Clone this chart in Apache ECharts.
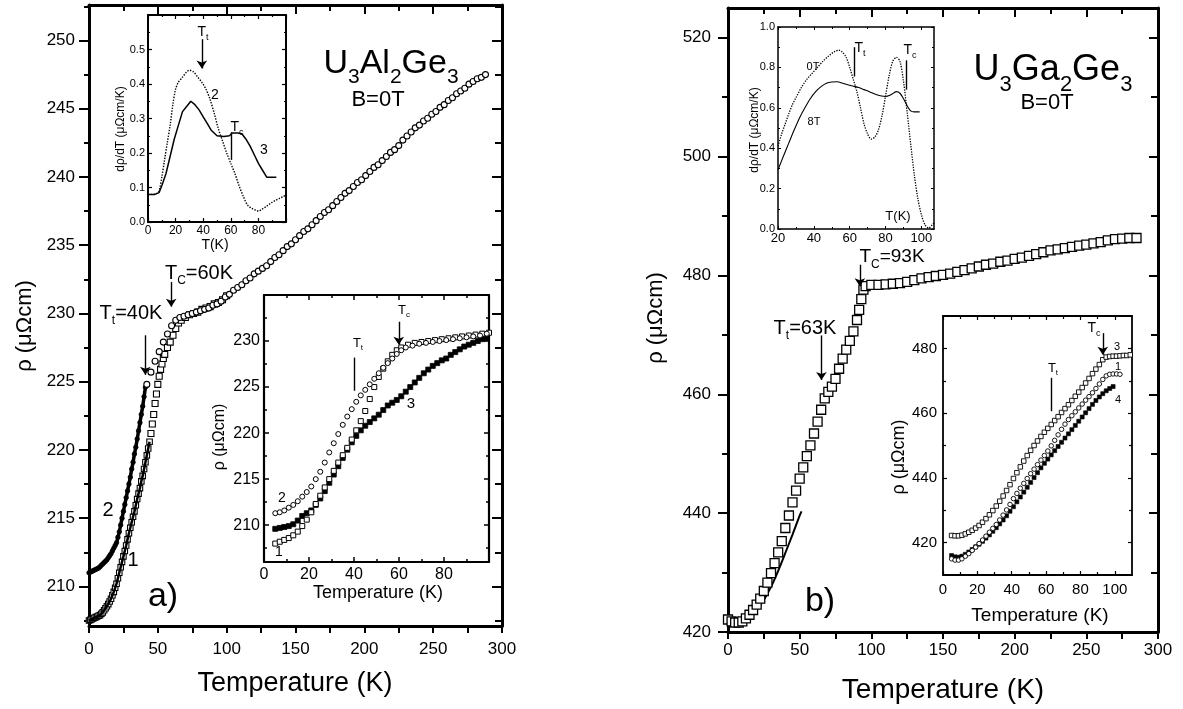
<!DOCTYPE html>
<html><head><meta charset="utf-8">
<script src="https://cdn.jsdelivr.net/npm/echarts@6/dist/echarts.min.js"></script>
<style>html,body{margin:0;padding:0;background:#fff}#c{width:1183px;height:709px}</style>
</head><body><div id="c"></div>
<script>
// ---------------- DATA ----------------
// Panel a) main: U3Al2Ge3, rho (µΩcm) vs T (K)
const mainL_c2_low = [[0,211.0],[1,211.05],[2,211.1],[3,211.15],[4,211.2],[5,211.25],[6,211.3],[7,211.35],[8,211.45],[9,211.55],[10,211.65],[11,211.75],[12,211.85],[13,211.95],[14,212.1],[15,212.25],[16,212.4],[17,212.6],[18,212.8],[19,213.0],[20,213.2],[21,213.6],[22,214.0],[23,214.5],[24,215.0],[25,215.5],[26,216.0],[27,216.5],[28,217.0],[29,217.5],[30,218.0],[31,218.6],[32,219.1],[33,219.7],[34,220.2],[35,220.8],[36,221.4],[37,222.0],[38,222.6],[39,223.2],[40,223.9],[41,224.6]];
const mainL_c2 = [[42,224.8],[45,225.7],[48,226.5],[51,227.2],[54,227.9],[57,228.5],[60,229.1],[63,229.5],[66,229.7],[69,229.8],[72,229.9],[75,230.0],[78,230.1],[81,230.2],[84,230.3],[87,230.4],[90,230.6],[93,230.7],[96,230.9],[99,231.2],[102,231.4],[105,231.7],[108,231.9],[111,232.1],[114,232.4],[117,232.6],[120,232.9],[123,233.1],[126,233.3],[129,233.5],[132,233.8],[135,234.1],[138,234.3],[141,234.6],[144,234.9],[147,235.1],[150,235.4],[153,235.7],[156,236.0],[159,236.2],[162,236.5],[165,236.8],[168,237.1],[171,237.4],[174,237.6],[177,237.9],[180,238.2],[183,238.5],[186,238.8],[189,239.0],[192,239.3],[195,239.6],[198,239.8],[201,240.1],[204,240.4],[207,240.7],[210,240.9],[213,241.2],[216,241.5],[219,241.8],[222,242.0],[225,242.3],[228,242.7],[231,243.0],[234,243.3],[237,243.6],[240,243.8],[243,244.1],[246,244.3],[249,244.6],[252,244.8],[255,245.1],[258,245.3],[261,245.6],[264,245.8],[267,246.1],[270,246.3],[273,246.5],[276,246.8],[279,247.0],[282,247.2],[285,247.3],[288,247.5]];
const mainL_c1_low = [[0,207.5],[1,207.55],[2,207.6],[3,207.65],[4,207.7],[5,207.75],[6,207.8],[7,207.85],[8,207.9],[9,208.0],[10,208.1],[11,208.25],[12,208.4],[13,208.55],[14,208.7],[15,208.9],[16,209.1],[17,209.35],[18,209.6],[19,209.9],[20,210.2],[21,210.6],[22,211.0],[23,211.4],[24,211.8],[25,212.2],[26,212.6],[27,213.0],[28,213.45],[29,213.9],[30,214.3],[31,214.7],[32,215.1],[33,215.5],[34,215.95],[35,216.4],[36,216.8],[37,217.2],[38,217.7],[39,218.1],[40,218.6],[41,219.1],[42,219.6],[43,220.1],[44,220.6]];
const mainL_c1 = [[45,221.2],[46,221.9],[47,222.6],[48,223.4],[49,224.1],[50,224.8],[51,225.4],[52,225.9],[53,226.3],[54,226.7],[55,227.0],[57,227.5],[59,227.9],[61,228.4],[63,228.9],[65,229.3],[67,229.5],[70,229.7],[73,229.9],[76,230.0],[79,230.1],[82,230.3],[85,230.4],[88,230.5],[91,230.7],[94,230.8],[97,231.0],[100,231.3]];

// Panel a) upper inset: drho/dT
const insTL_2 = [[0,0.08],[3,0.08],[6,0.082],[8,0.09],[10,0.13],[12,0.18],[14,0.23],[16,0.28],[18,0.34],[20,0.385],[22,0.405],[25,0.42],[28,0.435],[30,0.44],[33,0.435],[36,0.42],[39,0.405],[42,0.385],[45,0.355],[48,0.315],[51,0.27],[54,0.235],[57,0.2],[60,0.17],[63,0.14],[66,0.105],[69,0.075],[72,0.05],[75,0.04],[78,0.034],[80,0.032],[83,0.038],[86,0.046],[89,0.055],[92,0.062],[95,0.068],[98,0.074],[100,0.078]];
const insTL_3 = [[0,0.08],[5,0.08],[8,0.085],[10,0.105],[13,0.14],[16,0.19],[19,0.24],[22,0.28],[25,0.32],[28,0.335],[31,0.35],[34,0.34],[37,0.325],[40,0.305],[43,0.285],[46,0.265],[50,0.25],[55,0.248],[59,0.25],[61,0.258],[65,0.258],[68,0.256],[71,0.24],[74,0.22],[77,0.195],[80,0.17],[83,0.15],[86,0.13],[93,0.13]];

// Panel a) lower inset: rho vs T, samples 1,2,3
const insBL_2 = [[5,211.3],[7,211.4],[9,211.6],[11,211.9],[13,212.2],[15,212.6],[17,213.1],[19,213.6],[21,214.2],[23,215.0],[25,215.8],[27,216.8],[29,217.9],[31,218.9],[33,219.9],[35,220.9],[37,221.8],[39,222.6],[41,223.4],[43,224.1],[45,224.7],[47,225.3],[49,225.9],[51,226.5],[53,227.1],[55,227.6],[57,228.1],[59,228.6],[61,229.0],[63,229.3],[66,229.5],[69,229.7],[72,229.8],[75,229.9],[78,230.0],[81,230.1],[84,230.2],[87,230.3],[90,230.4],[93,230.5],[96,230.6],[99,230.8]];
const insBL_1 = [[5,208.0],[7,208.2],[9,208.4],[11,208.6],[13,208.9],[15,209.3],[17,209.9],[19,210.6],[21,211.4],[23,212.3],[25,213.2],[27,214.1],[29,215.0],[31,215.9],[33,216.8],[35,217.6],[37,218.4],[39,219.3],[41,220.3],[43,221.3],[45,222.4],[47,223.7],[49,225.0],[51,226.1],[53,227.0],[55,227.8],[57,228.5],[59,229.0],[61,229.3],[64,229.6],[67,229.8],[70,229.9],[73,230.0],[76,230.1],[79,230.2],[82,230.3],[85,230.4],[88,230.5],[91,230.6],[94,230.7],[97,230.8],[100,230.9]];
const insBL_3 = [[5,209.6],[7,209.7],[9,209.8],[11,209.9],[13,210.1],[15,210.5],[17,211.0],[19,211.3],[21,211.6],[23,212.2],[25,212.9],[27,213.7],[29,214.6],[31,215.5],[33,216.4],[35,217.3],[37,218.2],[39,219.0],[41,219.7],[43,220.3],[45,220.8],[47,221.2],[49,221.6],[51,222.0],[53,222.5],[55,223.0],[57,223.3],[59,223.6],[61,224.0],[63,224.5],[65,225.0],[67,225.5],[69,226.0],[71,226.5],[73,226.9],[75,227.3],[77,227.6],[79,227.9],[81,228.1],[83,228.5],[85,228.8],[87,229.1],[89,229.4],[91,229.6],[93,229.8],[95,230.0],[97,230.2],[99,230.3]];

// Panel b) main: U3Ga2Ge3
const mainR = [[0,422.1],[2.5,421.8],[5,421.6],[7.5,421.6],[10,421.8],[12.5,422.3],[15,422.9],[17.5,423.7],[20,424.6],[22.5,425.6],[25,426.9],[27.5,428.3],[30,429.9],[32.5,431.6],[35,433.4],[37.5,435.3],[40,437.5],[42.5,439.6],[45,441.8],[47.5,443.8],[50,445.8],[52.5,447.7],[55,449.6],[57.5,451.4],[60,453.4],[62.5,455.4],[65,457.4],[67.5,459.3],[70,460.4],[72.5,461.3],[75,462.6],[77.5,464.3],[80,466.0],[82.5,467.5],[85,469.0],[87.5,470.6],[90,472.5],[91.5,474.2],[93,476.0],[94.5,477.6],[96,478.2],[100,478.4],[105,478.4],[110,478.5],[115,478.6],[120,478.7],[125,478.9],[130,479.2],[135,479.5],[140,479.7],[145,479.9],[150,480.1],[155,480.3],[160,480.6],[165,480.9],[170,481.2],[175,481.5],[180,481.8],[185,482.0],[190,482.3],[195,482.5],[200,482.8],[205,483.0],[210,483.3],[215,483.6],[220,483.9],[225,484.2],[230,484.4],[235,484.6],[240,484.8],[245,485.0],[250,485.2],[255,485.4],[260,485.6],[265,485.9],[270,486.1],[275,486.2],[280,486.3],[285,486.3]];
const mainR_fit = [[0,422.0],[5,421.7],[10,421.8],[15,422.6],[20,423.8],[25,425.4],[30,427.6],[35,430.3],[40,433.3],[45,436.4],[50,439.6],[51.3,440.3]];

// Panel b) upper inset: drho/dT at 0T and 8T
const insTR_0T = [[20,0.41],[22,0.47],[24,0.52],[26,0.57],[28,0.615],[30,0.65],[33,0.7],[36,0.74],[39,0.77],[42,0.8],[45,0.83],[48,0.855],[51,0.875],[54,0.885],[56,0.875],[58,0.85],[60,0.8],[62,0.74],[64,0.68],[66,0.6],[68,0.52],[70,0.47],[72,0.445],[74,0.455],[76,0.49],[78,0.56],[80,0.66],[82,0.76],[84,0.83],[86,0.85],[88,0.83],[90,0.73],[92,0.58],[94,0.42],[96,0.27],[98,0.15],[100,0.07],[102,0.02],[104,0.005],[106,0.02],[107,0.03]];
const insTR_8T = [[20,0.293],[23,0.36],[26,0.425],[29,0.49],[32,0.55],[35,0.6],[38,0.645],[41,0.68],[44,0.705],[47,0.722],[50,0.728],[53,0.729],[56,0.722],[59,0.714],[62,0.707],[65,0.7],[68,0.69],[71,0.68],[74,0.668],[77,0.66],[80,0.656],[83,0.665],[86,0.68],[88,0.672],[90,0.645],[92,0.61],[94,0.585],[96,0.58],[99,0.58]];

// Panel b) lower inset: samples 1,3,4
const insBR_3 = [[5,422.2],[7,422.1],[9,422.1],[11,422.3],[13,422.7],[15,423.2],[17,423.8],[19,424.5],[21,425.3],[23,426.3],[25,427.4],[27,428.6],[29,429.9],[31,431.3],[33,432.8],[35,434.4],[37,436.1],[39,437.9],[41,439.8],[43,441.6],[45,443.4],[47,445.2],[49,446.9],[51,448.5],[53,450.0],[55,451.4],[57,452.8],[59,454.1],[61,455.3],[63,456.5],[65,457.7],[67,458.9],[69,460.2],[71,461.4],[73,462.6],[75,463.9],[77,465.2],[79,466.5],[81,467.9],[83,469.3],[85,470.7],[87,472.2],[89,473.6],[91,475.0],[93,476.5],[95,477.3],[97,477.5],[99,477.6],[101,477.6],[103,477.7],[105,477.8],[107,477.8],[109,478.0]];
const insBR_1 = [[5,415.0],[7,414.6],[9,414.6],[11,415.0],[13,415.8],[15,416.6],[17,417.6],[19,418.6],[21,419.7],[23,420.8],[25,422.0],[27,423.2],[29,424.4],[31,425.6],[33,427.0],[35,428.5],[37,430.1],[39,431.8],[41,433.6],[43,435.2],[45,436.8],[47,438.3],[49,439.8],[51,441.3],[53,442.7],[55,444.1],[57,445.5],[59,446.9],[61,448.3],[63,449.9],[65,451.6],[67,453.3],[69,455.0],[71,456.6],[73,458.0],[75,459.2],[77,460.4],[79,461.6],[81,462.8],[83,464.0],[85,465.1],[87,466.3],[89,467.6],[91,469.0],[93,470.4],[95,471.5],[97,472.0],[99,472.1],[101,472.1],[103,472.0]];
const insBR_4 = [[5,416.0],[7,415.6],[9,415.5],[11,415.8],[13,416.4],[15,417.1],[17,417.9],[19,418.7],[21,419.5],[23,420.4],[25,421.4],[27,422.4],[29,423.5],[31,424.6],[33,425.8],[35,427.0],[37,428.3],[39,429.7],[41,431.1],[43,432.6],[45,434.1],[47,435.6],[49,437.1],[51,438.6],[53,440.1],[55,441.6],[57,443.1],[59,444.5],[61,445.8],[63,447.1],[65,448.4],[67,449.7],[69,451.0],[71,452.3],[73,453.6],[75,454.9],[77,456.2],[79,457.5],[81,458.8],[83,460.1],[85,461.4],[87,462.7],[89,463.9],[91,465.0],[93,466.0],[95,466.9],[97,467.6],[99,468.2]];

// Tick values
const tkL_x = [0,50,100,150,200,250,300], tkL_xm = [25,75,125,175,225,275];
const tkL_y = [210,215,220,225,230,235,240,245,250], tkL_ym = [207.5,212.5,217.5,222.5,227.5,232.5,237.5,242.5,247.5,252.5];
const tkR_x = [0,50,100,150,200,250,300], tkR_xm = [25,75,125,175,225,275];
const tkR_y = [420,440,460,480,500,520], tkR_ym = [430,450,470,490,510];
const tkTL_x = [0,20,40,60,80,100], tkTL_xl = [0,20,40,60,80], tkTL_xm = [10,30,50,70,90];
const tkTL_y = [0,0.1,0.2,0.3,0.4,0.5], tkTL_ym = [0.05,0.15,0.25,0.35,0.45,0.55];
const tkBL_x = [0,20,40,60,80,100], tkBL_xl = [0,20,40,60,80], tkBL_xm = [10,30,50,70,90];
const tkBL_y = [210,215,220,225,230], tkBL_ym = [207.5,212.5,217.5,222.5,227.5,232.5];
const tkTR_x = [20,40,60,80,100], tkTR_xm = [30,50,70,90];
const tkTR_y = [0,0.2,0.4,0.6,0.8,1.0], tkTR_ym = [0.1,0.3,0.5,0.7,0.9];
const tkBR_x = [0,20,40,60,80,100], tkBR_xm = [10,30,50,70,90];
const tkBR_y = [420,440,460,480], tkBR_ym = [430,450,470];

// ---------------- BUILD ----------------
const FONT = '"Liberation Sans", Arial, Helvetica, sans-serif';
const xAxes = [], yAxes = [];
function ax(g, pos, min, max, o) {
  return {
    type: 'value', gridIndex: g, position: pos, min: min, max: max,
    axisLine: {show: !!o.line, onZero: false, lineStyle: {color: '#000', width: o.lw || 2}},
    axisTick: {show: !!o.ticks, inside: !!o.inside, length: o.len || 4, customValues: o.ticks || [],
      lineStyle: {color: '#000', width: o.tw || 1.5}},
    axisLabel: {show: !!o.labels, customValues: o.labels || [], fontSize: o.fs || 12, color: '#000',
      fontFamily: FONT, margin: o.margin || 6, formatter: o.fmt},
    splitLine: {show: false}, splitArea: {show: false}, minorTick: {show: false}, minorSplitLine: {show: false}
  };
}
function box(g, X, Y) {
  const xi = xAxes.length;
  xAxes.push(ax(g, 'bottom', X.min, X.max, {line: true, lw: X.lw, ticks: X.major, inside: X.bIn, len: X.bLen, tw: X.tw, labels: X.labels, fs: X.fs, margin: X.margin, fmt: X.fmt}));
  xAxes.push(ax(g, 'bottom', X.min, X.max, {line: false, ticks: X.minor, inside: X.bIn, len: X.bmLen, tw: X.tw}));
  xAxes.push(ax(g, 'top', X.min, X.max, {line: true, lw: X.lw, ticks: X.major, inside: true, len: X.tLen, tw: X.tw}));
  xAxes.push(ax(g, 'top', X.min, X.max, {line: false, ticks: X.minor, inside: true, len: X.tmLen, tw: X.tw}));
  const yi = yAxes.length;
  yAxes.push(ax(g, 'left', Y.min, Y.max, {line: true, lw: Y.lw, ticks: Y.major, inside: Y.lIn, len: Y.lLen, tw: Y.tw, labels: Y.labels, fs: Y.fs, margin: Y.margin, fmt: Y.fmt}));
  yAxes.push(ax(g, 'left', Y.min, Y.max, {line: false, ticks: Y.minor, inside: Y.lIn, len: Y.lmLen, tw: Y.tw}));
  yAxes.push(ax(g, 'right', Y.min, Y.max, {line: true, lw: Y.lw, ticks: Y.major, inside: true, len: Y.rLen, tw: Y.tw}));
  yAxes.push(ax(g, 'right', Y.min, Y.max, {line: false, ticks: Y.minor, inside: true, len: Y.rmLen, tw: Y.tw}));
  return {x: xi, y: yi};
}

const grids = [
  {left: 89, top: 5, width: 413, height: 621},
  {left: 148, top: 15, width: 138, height: 207, show: true, backgroundColor: '#fff', borderWidth: 0},
  {left: 264, top: 295, width: 225, height: 267, show: true, backgroundColor: '#fff', borderWidth: 0},
  {left: 728, top: 8, width: 430, height: 624},
  {left: 778, top: 27, width: 156, height: 202, show: true, backgroundColor: '#fff', borderWidth: 0},
  {left: 943, top: 316, width: 189, height: 259, show: true, backgroundColor: '#fff', borderWidth: 0}
];
const f1 = v => v.toFixed(1);
const A0 = box(0, {min: 0, max: 300, major: tkL_x, minor: tkL_xm, labels: tkL_x, fs: 17, margin: 15, lw: 3, tw: 2, bIn: false, bLen: 7, bmLen: 7, tLen: 9, tmLen: 6},
                 {min: 207.1, max: 252.6, major: tkL_y, minor: tkL_ym, labels: tkL_y, fs: 17, margin: 14, lw: 3, tw: 2, lIn: false, lLen: 10, lmLen: 5, rLen: 10, rmLen: 7});
const A1 = box(1, {min: 0, max: 100, major: tkTL_x, minor: tkTL_xm, labels: tkTL_xl, fs: 12, margin: 3, lw: 2, tw: 1.2, bIn: true, bLen: 4, bmLen: 2, tLen: 4, tmLen: 2},
                 {min: 0, max: 0.6, major: tkTL_y, minor: tkTL_ym, labels: tkTL_y, fs: 11, margin: 3, lw: 2, tw: 1.2, lIn: true, lLen: 4, lmLen: 2, rLen: 4, rmLen: 2, fmt: f1});
const A2 = box(2, {min: 0, max: 100, major: tkBL_x, minor: tkBL_xm, labels: tkBL_xl, fs: 16, margin: 5, lw: 2.2, tw: 1.5, bIn: true, bLen: 5, bmLen: 3, tLen: 5, tmLen: 3},
                 {min: 206, max: 235, major: tkBL_y, minor: tkBL_ym, labels: tkBL_y, fs: 16, margin: 4, lw: 2.2, tw: 1.5, lIn: true, lLen: 5, lmLen: 3, rLen: 5, rmLen: 3});
const A3 = box(3, {min: 0, max: 300, major: tkR_x, minor: tkR_xm, labels: tkR_x, fs: 17, margin: 10, lw: 3, tw: 2, bIn: false, bLen: 7, bmLen: 7, tLen: 9, tmLen: 6},
                 {min: 420, max: 525, major: tkR_y, minor: tkR_ym, labels: tkR_y, fs: 17, margin: 17, lw: 3, tw: 2, lIn: false, lLen: 10, lmLen: 6, rLen: 9, rmLen: 7});
const A4 = box(4, {min: 20, max: 107, major: tkTR_x, minor: tkTR_xm, labels: tkTR_x, fs: 13, margin: 3, lw: 1.5, tw: 1, bIn: true, bLen: 3, bmLen: 2, tLen: 3, tmLen: 2},
                 {min: 0, max: 1, major: tkTR_y, minor: tkTR_ym, labels: tkTR_y, fs: 11, margin: 3, lw: 1.5, tw: 1, lIn: true, lLen: 3, lmLen: 2, rLen: 3, rmLen: 2, fmt: f1});
const A5 = box(5, {min: 0, max: 110, major: tkBR_x, minor: tkBR_xm, labels: tkBR_x, fs: 15, margin: 7, lw: 1.8, tw: 1.2, bIn: true, bLen: 4, bmLen: 3, tLen: 4, tmLen: 3},
                 {min: 410, max: 490, major: tkBR_y, minor: tkBR_ym, labels: tkBR_y, fs: 15, margin: 6, lw: 1.8, tw: 1.2, lIn: true, lLen: 4, lmLen: 3, rLen: 4, rmLen: 3});

function scat(A, data, symbol, size, fill, bw, extra) {
  return Object.assign({type: 'scatter', xAxisIndex: A.x, yAxisIndex: A.y, data: data, symbol: symbol, symbolSize: size,
    itemStyle: {color: fill, borderColor: '#000', borderWidth: bw, opacity: 1}, silent: true, z: 3}, extra || {});
}
function line(A, data, type, w, extra) {
  return Object.assign({type: 'line', xAxisIndex: A.x, yAxisIndex: A.y, data: data, showSymbol: false, symbol: 'none', smooth: 0.3,
    lineStyle: {color: '#000', width: w, type: type}, silent: true, z: 3}, extra || {});
}
function mk(items) {
  return {silent: true, animation: false, label: {show: false}, symbolSize: 8,
    lineStyle: {color: '#000', width: 1.4, type: 'solid'}, emphasis: {disabled: true},
    data: items.map(it => [{coord: [it[0], it[1]], symbol: 'none'}, {coord: [it[0], it[2]], symbol: it[3] ? 'arrow' : 'none'}])};
}

const series = [
  line(A0, mainL_c2_low, 'solid', 3.5, {smooth: 0.2}),
  scat(A0, mainL_c2_low, 'circle', 4.5, '#000', 0.8),
  scat(A0, mainL_c1_low, 'rect', 5.5, '#fff', 1.1),
  line(A0, mainL_c1_low, 'solid', 2.5, {smooth: 0.2, z: 4}),
  scat(A0, mainL_c1, 'rect', 6, '#fff', 1.1),
  scat(A0, mainL_c2, 'circle', 6, '#fff', 1.1, {markLine: mk([[40.9, 228.4, 225.5, 1], [59.7, 232.3, 230.5, 1]])}),
  line(A1, insTL_2, 'dotted', 1.4),
  line(A1, insTL_3, 'solid', 1.5, {smooth: false, markLine: mk([[39, 0.53, 0.445, 1], [60.6, 0.26, 0.18, 0]])}),
  scat(A2, insBL_3, 'rect', 5, '#000', 0.8),
  scat(A2, insBL_1, 'rect', 5, '#fff', 1),
  scat(A2, insBL_2, 'circle', 5, '#fff', 1, {markLine: mk([[40.3, 228.2, 224.6, 0], [59.9, 232.1, 229.6, 1]])}),
  line(A3, mainR_fit, 'solid', 2),
  scat(A3, mainR, 'rect', 9, '#fff', 1.3, {markLine: mk([[92, 481.8, 478.2, 1], [65.2, 469.9, 462.4, 1]])}),
  line(A4, insTR_0T, 'dotted', 1.3),
  line(A4, insTR_8T, 'solid', 1.1, {markLine: mk([[62.7, 0.9, 0.755, 0], [91.3, 0.835, 0.69, 0]])}),
  scat(A5, insBR_4, 'rect', 4, '#000', 0.6),
  scat(A5, insBR_1, 'circle', 4.5, '#fff', 0.9),
  scat(A5, insBR_3, 'rect', 4.5, '#fff', 0.9, {markLine: mk([[93, 484.7, 478.0, 1], [62.8, 470.9, 460.6, 0]])})
];

// ---------------- TEXT ----------------
function txt(x, y, s, fs, rot) {
  return {type: 'text', x: x, y: y, rotation: rot || 0, silent: true, z: 100,
    style: {text: s, fontSize: fs, fontFamily: FONT, fill: '#000', align: 'center', verticalAlign: 'middle'}};
}
function rtxt(x, y, parts, fs) {
  const sfs = Math.round(fs * 0.62), pad = Math.round(fs * 0.8);
  const t = parts.map(p => p[1] ? '{s|' + p[0] + '}' : '{n|' + p[0] + '}').join('');
  return {type: 'text', x: x, y: y, silent: true, z: 100,
    style: {text: t, fontSize: fs, fontFamily: FONT, fill: '#000', align: 'center', verticalAlign: 'middle',
      rich: {n: {fontSize: fs, fontFamily: FONT, fill: '#000'},
             s: {fontSize: sfs, fontFamily: FONT, fill: '#000', padding: [pad, 0, 0, 0]}}}};
}
const R = Math.PI / 2;
const graphic = [
  rtxt(391, 64, [['U'], ['3', 1], ['Al'], ['2', 1], ['Ge'], ['3', 1]], 34),
  txt(378, 100, 'B=0T', 22),
  rtxt(199, 273, [['T'], ['C', 1], ['=60K']], 20),
  rtxt(131, 313, [['T'], ['t', 1], ['=40K']], 20),
  txt(163, 597, 'a)', 34),
  txt(108, 510, '2', 20), txt(133, 560, '1', 20),
  txt(25, 326, 'ρ (μΩcm)', 22, R),
  txt(295, 684, 'Temperature (K)', 27),
  rtxt(203, 32, [['T'], ['t', 1]], 14),
  txt(215, 95, '2', 14),
  rtxt(237, 127, [['T'], ['c', 1]], 14),
  txt(264, 150, '3', 14),
  txt(121, 129, 'dρ/dT (μΩcm/K)', 12, R),
  txt(215, 245, 'T(K)', 14),
  rtxt(358, 343, [['T'], ['t', 1]], 13),
  rtxt(404, 310, [['T'], ['c', 1]], 13),
  txt(411, 404, '3', 15),
  txt(282, 498, '2', 14), txt(279, 552, '1', 14),
  txt(220, 437, 'ρ (μΩcm)', 16, R),
  txt(378, 593, 'Temperature (K)', 18),
  rtxt(1053, 70, [['U'], ['3', 1], ['Ga'], ['2', 1], ['Ge'], ['3', 1]], 36),
  txt(1047, 103, 'B=0T', 22),
  rtxt(892, 257, [['T'], ['C', 1], ['=93K']], 19),
  rtxt(805, 328, [['T'], ['t', 1], ['=63K']], 20),
  txt(820, 602, 'b)', 34),
  txt(656, 318, 'ρ (μΩcm)', 22, R),
  txt(943, 690, 'Temperature (K)', 28),
  txt(813, 67, '0T', 11), txt(814, 122, '8T', 11),
  rtxt(860, 48, [['T'], ['t', 1]], 14),
  rtxt(910, 50, [['T'], ['c', 1]], 14),
  txt(898, 216, 'T(K)', 13),
  txt(755, 130, 'dρ/dT (μΩcm/K)', 12, R),
  rtxt(1094, 328, [['T'], ['c', 1]], 14),
  txt(1117, 347, '3', 11), txt(1118, 367, '1', 11), txt(1118, 400, '4', 11),
  rtxt(1053, 368, [['T'], ['t', 1]], 13),
  txt(899, 457, 'ρ (μΩcm)', 18, R),
  txt(1040, 616, 'Temperature (K)', 19)
];

const chart = echarts.init(document.getElementById('c'), null, {renderer: 'canvas'});
chart.setOption({
  animation: false, backgroundColor: '#fff',
  grid: grids, xAxis: xAxes, yAxis: yAxes, series: series, graphic: graphic
});
</script></body></html>
